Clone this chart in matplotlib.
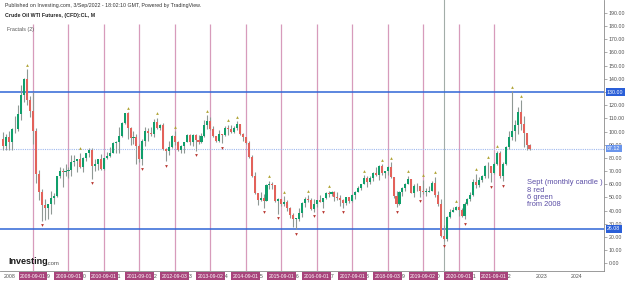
import numpy as np
import matplotlib
matplotlib.use("Agg")
import matplotlib.pyplot as plt
from matplotlib.transforms import blended_transform_factory

plt.rcParams['font.family'] = ['Liberation Sans', 'DejaVu Sans']

# ---------------- data (monthly OHLC, Nov 2007 .. Sep 2022) ----------------
start_year, start_month = 2007, 11

opens = [94.0, 88.7,
         96.0, 91.8, 101.8, 101.6, 113.5, 127.4, 140.0, 124.1, 115.5, 100.6, 67.8, 54.4,
         44.6, 41.7, 44.8, 49.7, 51.1, 66.3, 69.9, 69.5, 70.0, 70.6, 77.0, 77.3,
         79.4, 72.9, 79.7, 83.8, 86.2, 74.0, 75.6, 79.0, 71.9, 80.0, 81.4, 84.1,
         91.4, 92.2, 97.0, 106.7, 113.9, 102.7, 95.4, 95.7, 88.8, 79.2, 93.2, 100.4,
         98.8, 98.5, 107.1, 103.0, 104.9, 86.5, 85.0, 88.1, 96.5, 92.2, 86.2, 88.9,
         91.8, 97.5, 92.1, 97.2, 93.5, 92.0, 96.6, 105.0, 107.7, 102.3, 96.4, 92.7,
         98.4, 97.5, 102.6, 101.6, 99.7, 102.7, 105.4, 98.2, 96.0, 91.2, 80.5, 66.2,
         53.3, 48.2, 49.8, 47.6, 59.6, 60.3, 59.5, 47.1, 49.2, 45.1, 46.6, 41.7,
         37.0, 33.6, 33.75, 38.3, 45.9, 49.1, 48.3, 41.6, 44.7, 48.2, 46.9, 49.4,
         53.7, 52.8, 54.0, 50.6, 49.3, 48.3, 46.0, 50.2, 47.2, 51.7, 54.4, 57.4,
         60.4, 64.7, 61.6, 64.9, 68.6, 67.0, 74.2, 68.8, 69.8, 73.3, 65.3, 50.9,
         45.4, 53.8, 57.2, 60.1, 63.9, 53.5, 58.5, 58.6, 55.1, 54.1, 54.2, 55.2,
         61.1, 51.6, 44.8, 20.5, 18.8, 35.5, 39.3, 40.3, 42.6, 40.2, 35.8, 45.3,
         48.5, 52.2, 61.5, 59.2, 63.6, 66.3, 73.5, 74.0, 68.5, 75.0, 83.6, 66.2,
         75.2, 88.2, 95.7, 100.3, 104.7, 114.7, 105.8, 98.6, 89.6]

highs = [99.3, 97.8,
         100.1, 102.6, 111.8, 119.9, 135.1, 140.4, 147.3, 126.6, 130.0, 102.5, 70.9, 56.2,
         49.2, 43.8, 54.7, 53.4, 66.5, 73.4, 72.7, 75.0, 72.9, 82.0, 82.0, 79.4,
         83.95, 80.5, 83.9, 87.2, 87.2, 79.4, 79.4, 82.8, 80.1, 84.4, 88.6, 92.1,
         92.6, 103.4, 106.9, 113.9, 114.8, 103.4, 100.6, 98.5, 90.5, 94.7, 103.4, 102.4,
         103.7, 109.8, 110.6, 106.0, 106.4, 87.7, 92.9, 97.4, 100.4, 93.0, 90.0, 91.9,
         98.2, 98.2, 97.8, 97.8, 97.3, 99.0, 108.9, 112.2, 110.7, 104.4, 96.6, 100.8,
         98.5, 104.0, 105.2, 104.99, 104.5, 107.7, 106.0, 98.7, 96.2, 92.5, 82.0, 69.1,
         53.6, 54.2, 52.5, 59.9, 62.6, 61.6, 59.7, 49.3, 49.2, 50.9, 48.4, 42.6,
         38.4, 34.7, 41.9, 46.8, 50.2, 51.7, 49.4, 48.75, 48.3, 51.9, 49.9, 54.5,
         55.2, 54.9, 54.6, 53.8, 52.0, 48.99, 50.4, 50.2, 52.9, 54.9, 58.95, 60.5,
         66.7, 66.6, 66.6, 69.6, 72.9, 74.5, 75.3, 70.4, 73.8, 76.9, 65.4, 54.6,
         55.0, 57.8, 60.7, 66.6, 64.1, 59.9, 60.9, 58.8, 63.4, 57.0, 58.7, 62.3,
         65.65, 54.7, 48.7, 29.1, 35.6, 41.6, 42.5, 43.8, 43.4, 41.9, 46.3, 49.4,
         53.9, 63.8, 67.9, 65.5, 67.0, 74.5, 76.98, 74.0, 76.7, 85.4, 84.97, 77.0,
         88.8, 100.5, 130.5, 108.7, 118.7, 123.7, 111.5, 98.5, 90.5]

lows = [85.9, 85.7,
        86.1, 86.1, 98.7, 100.5, 109.1, 122.5, 120.4, 111.3, 90.5, 61.3, 48.3, 32.4,
        33.2, 33.6, 37.6, 45.3, 50.2, 65.1, 58.3, 66.6, 65.1, 65.9, 74.2, 69.5,
        72.4, 69.5, 77.4, 80.8, 64.2, 69.8, 71.1, 70.8, 70.8, 79.2, 80.7, 84.1,
        84.1, 84.1, 95.9, 105.5, 94.6, 89.6, 90.3, 75.7, 77.1, 74.95, 89.2, 92.5,
        96.3, 96.0, 102.0, 101.4, 86.3, 77.3, 82.5, 87.5, 90.0, 84.9, 84.1, 84.1,
        91.8, 90.0, 89.3, 85.6, 90.9, 91.0, 95.7, 102.2, 101.5, 95.8, 91.8, 92.3,
        91.2, 96.5, 97.4, 98.7, 98.7, 101.4, 97.2, 92.5, 90.4, 79.8, 65.7, 52.7,
        44.2, 47.4, 42.0, 47.1, 56.5, 56.5, 46.7, 37.75, 43.2, 43.2, 40.0, 34.5,
        27.6, 26.05, 32.4, 35.2, 43.0, 46.7, 40.6, 39.2, 42.5, 46.6, 42.2, 49.0,
        50.7, 51.2, 47.1, 48.2, 43.8, 42.05, 44.0, 45.6, 46.6, 49.1, 54.2, 55.8,
        59.9, 58.1, 59.95, 62.6, 66.4, 63.6, 67.0, 64.4, 67.0, 64.9, 49.4, 42.4,
        44.35, 51.3, 55.1, 60.0, 53.0, 50.6, 54.7, 50.5, 52.8, 50.99, 54.0, 55.0,
        50.6, 43.3, 20.0, 16.7, 17.3, 34.4, 38.7, 40.3, 36.1, 34.9, 33.6, 44.0,
        47.3, 51.3, 57.3, 57.6, 61.6, 64.8, 65.0, 61.7, 67.5, 74.6, 64.4, 62.4,
        74.3, 86.6, 93.5, 92.9, 98.2, 101.5, 88.3, 85.7, 86.3]

closes = [88.7, 96.0,
          91.8, 101.8, 101.6, 113.5, 127.4, 140.0, 124.1, 115.5, 100.6, 67.8, 54.4, 44.6,
          41.7, 44.8, 49.7, 51.1, 66.3, 69.9, 69.5, 70.0, 70.6, 77.0, 77.3, 79.4,
          72.9, 79.7, 83.8, 86.2, 74.0, 75.6, 79.0, 71.9, 80.0, 81.4, 84.1, 91.4,
          92.2, 97.0, 106.7, 113.9, 102.7, 95.4, 95.7, 88.8, 79.2, 93.2, 100.4, 98.8,
          98.5, 107.1, 103.0, 104.9, 86.5, 85.0, 88.1, 96.5, 92.2, 86.2, 88.9, 91.8,
          97.5, 92.1, 97.2, 93.5, 92.0, 96.6, 105.0, 107.7, 102.3, 96.4, 92.7, 98.4,
          97.5, 102.6, 101.6, 99.7, 102.7, 105.4, 98.2, 96.0, 91.2, 80.5, 66.2, 53.3,
          48.2, 49.8, 47.6, 59.6, 60.3, 59.5, 47.1, 49.2, 45.1, 46.6, 41.7, 37.0,
          33.6, 33.75, 38.3, 45.9, 49.1, 48.3, 41.6, 44.7, 48.2, 46.9, 49.4, 53.7,
          52.8, 54.0, 50.6, 49.3, 48.3, 46.0, 50.2, 47.2, 51.7, 54.4, 57.4, 60.4,
          64.7, 61.6, 64.9, 68.6, 67.0, 74.2, 68.8, 69.8, 73.3, 65.3, 50.9, 45.4,
          53.8, 57.2, 60.1, 63.9, 53.5, 58.5, 58.6, 55.1, 54.1, 54.2, 55.2, 61.1,
          51.6, 44.8, 20.5, 18.8, 35.5, 39.3, 40.3, 42.6, 40.2, 35.8, 45.3, 48.5,
          52.2, 61.5, 59.2, 63.6, 66.3, 73.5, 74.0, 68.5, 75.0, 83.6, 66.2, 75.2,
          88.2, 95.7, 100.3, 104.7, 114.7, 105.8, 98.6, 89.6, 87.12]

sept_labels = ["2008-09-01", "2009-09-01", "2010-09-01", "2011-09-01", "2012-09-03",
               "2013-09-02", "2014-09-01", "2015-09-01", "2016-09-01", "2017-09-01",
               "2018-09-03", "2019-09-02", "2020-09-01", "2021-09-01"]
year_labels = [str(y) for y in range(2008, 2025)]
price_ticks = list(range(0, 200, 10))
level_high = 130.00
level_low = 26.08
last_price = 87.12
marked_month = (2020, 4)
note_text = "Sept (monthly candle )\n8 red\n6 green\nfrom 2008"

# ---------------- figure ----------------
W, H = 625, 281
fig = plt.figure(figsize=(W / 100, H / 100), dpi=100)
fig.patch.set_facecolor("white")
ax = fig.add_axes([0, 10 / H, 604 / W, 271 / H])
ax.set_xlim(-3.17, 201.2)
ax.set_ylim(-5.8, 199.8)

o = np.array(opens); h = np.array(highs); l = np.array(lows); c = np.array(closes)
n = len(c)
m = np.arange(n) + (start_year - 2008) * 12 + (start_month - 1)

def month_idx(y, mo):
    return (y - 2008) * 12 + (mo - 1)

# september lines
sept_m = [month_idx(int(s[:4]), 9) for s in sept_labels]
ax.vlines(sept_m, -5.8, 181.5, color="#d79bbb", lw=0.9, zorder=1)
ax.axvline(month_idx(*marked_month), color="#a3ada8", lw=0.8, zorder=1)

# horizontal levels
ax.axhline(level_high, color="#2f66d6", lw=1.1, zorder=2)
ax.axhline(level_low, color="#2f66d6", lw=1.1, zorder=2)
ax.axhline(last_price, color="#9fb8ee", lw=0.8, ls=(0, (1, 1)), zorder=2)

# candles
up = c >= o
ax.vlines(m, l, h, color="#8f9894", lw=0.8, zorder=3)
body_b = np.minimum(o, c)
body_h = np.maximum(np.abs(c - o), 0.5)
ax.bar(m, body_h, bottom=body_b, width=0.7,
       color=np.where(up, "#0f9e6a", "#e3625b"), linewidth=0, zorder=4)

# Williams fractals (2)
up_idx, dn_idx = [], []
for i in range(2, n - 2):
    if h[i] > max(h[i - 2:i]) and h[i] > max(h[i + 1:i + 3]):
        up_idx.append(i)
    if l[i] < min(l[i - 2:i]) and l[i] < min(l[i + 1:i + 3]):
        dn_idx.append(i)
ax.scatter(m[up_idx], h[up_idx] + 3.4, marker="^", s=4, color="#b0a435",
           linewidths=0, zorder=5)
ax.scatter(m[dn_idx], l[dn_idx] - 3.4, marker="v", s=4, color="#b8352f",
           linewidths=0, zorder=5)

# axes styling
for s in ("top", "left"):
    ax.spines[s].set_visible(False)
for s in ("right", "bottom"):
    ax.spines[s].set_color("#8a8a8a")
    ax.spines[s].set_linewidth(0.6)
ax.yaxis.tick_right()
ax.set_yticks(price_ticks)
ax.set_yticklabels(["" if v == level_high else f"{v:.2f}" for v in price_ticks])
ax.tick_params(axis="y", direction="out", length=2, width=0.5, color="#8a8a8a",
               labelsize=3.8, labelcolor="#505050", pad=1.5)
ax.set_xticks([])

bx = blended_transform_factory(ax.transData, ax.transAxes)
by = blended_transform_factory(ax.transAxes, ax.transData)
ylab = -5 / 271
for i, yl in enumerate(year_labels):
    ax.text(i * 12, ylab, yl, transform=bx, ha="center", va="center",
            fontsize=3.8, color="#505050", zorder=2, clip_on=False)
for sm, lab in zip(sept_m, sept_labels):
    ax.text(sm, ylab, lab, transform=bx, ha="center", va="center",
            fontsize=3.6, color="white", zorder=6, clip_on=False,
            bbox=dict(boxstyle="square,pad=0.3", fc="#a8447b", ec="none"))

# price labels
for val, col in ((level_high, "#2a5fd8"), (last_price, "#6a95ec"), (level_low, "#2a5fd8")):
    ax.text(1.0 + 3 / 604, val, f"{val:.2f}", transform=by, ha="left", va="center",
            fontsize=3.8, color="white", zorder=7, clip_on=False,
            bbox=dict(boxstyle="square,pad=0.25", fc=col, ec="none"))

# annotation
fig.text(527 / W, 1 - 179 / H, note_text, ha="left", va="top", fontsize=5.4,
         color="#5b4ea6", linespacing=1.1)

# header
fig.text(5 / W, 1 - 6 / H, "Published on Investing.com, 3/Sep/2022 - 18:02:10 GMT, Powered by TradingView.",
         ha="left", va="center", fontsize=3.8, color="#333333")
fig.text(5 / W, 1 - 15 / H, "Crude Oil WTI Futures, (CFD):CL, M",
         ha="left", va="center", fontsize=3.8, color="#222222", fontweight="bold")
fig.text(7 / W, 1 - 29 / H, "Fractals (2)", ha="left", va="center",
         fontsize=3.8, color="#555555")

# logo
fig.text(8 / W, 1 - 262 / H, "Investing", ha="left", va="center", fontsize=6.5,
         fontweight="bold", color="#1a1a1a")
fig.text(46 / W, 1 - 263.5 / H, ".com", ha="left", va="center", fontsize=4.3,
         color="#555555")

fig.savefig("out.png", dpi=100, facecolor="white")
